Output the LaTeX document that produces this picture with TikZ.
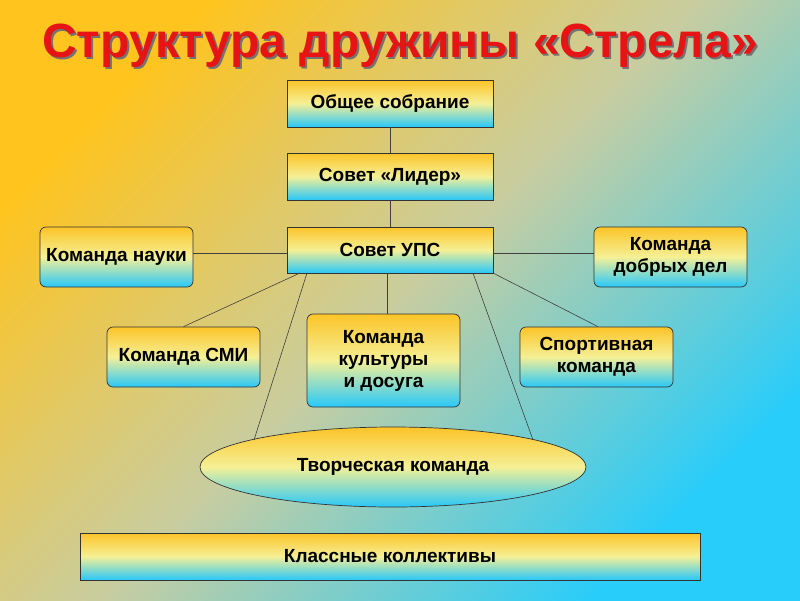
\documentclass[tikz,border=0pt]{standalone}
\usepackage{fontspec}
\setmainfont{Liberation Sans}
\usetikzlibrary{shapes.geometric}
\definecolor{bgY}{RGB}{255,196,30}
\definecolor{bgC}{RGB}{40,205,250}
\definecolor{bxY}{RGB}{252,196,40}
\definecolor{bxM}{RGB}{245,240,150}
\definecolor{bxC}{RGB}{40,200,250}
\definecolor{ttl}{RGB}{230,20,20}
\tikzset{
 bx/.style={draw=black!80,line width=0.7pt,top color=bxY,bottom color=bxC,middle color=bxM,font=\bfseries\fontsize{19}{22}\selectfont,align=center,inner sep=0pt},
 rbx/.style={bx,rounded corners=6pt},
 ln/.style={draw=black!75,line width=0.6pt}
}
\begin{document}
\begin{tikzpicture}[x=1pt,y=-1pt]
\shade[top color=bgY,bottom color=bgC,middle color={rgb,255:red,200;green,205;blue,160},shading angle=45] (0,0) rectangle (800,600);
\useasboundingbox (0,0) rectangle (800,600);
\node[font=\bfseries\fontsize{48}{54}\selectfont,text=black!55] at (402,48) {Структура дружины «Стрела»};
\node[font=\bfseries\fontsize{48}{54}\selectfont,text=ttl] (t) at (400,46) {Структура дружины «Стрела»};
\node[bx,minimum width=206,minimum height=47] (a) at (390,103.5) {Общее собрание};
\node[bx,minimum width=206,minimum height=47] (b) at (390,176.5) {Совет «Лидер»};
\node[bx,minimum width=206,minimum height=46] (c) at (390,250) {Совет УПС};
\node[rbx,minimum width=153,minimum height=60] (n) at (116.5,257) {Команда науки};
\node[rbx,minimum width=153,minimum height=60] (d) at (670.5,257) {Команда\\добрых дел};
\node[rbx,minimum width=153,minimum height=60] (s) at (183.5,357) {Команда СМИ};
\node[rbx,minimum width=153,minimum height=93] (k) at (383.5,360.5) {Команда\\культуры\\и досуга};
\node[rbx,minimum width=153,minimum height=60] (sp) at (596.5,357) {Спортивная\\команда};
\node[bx,ellipse,minimum width=386,minimum height=80] (e) at (393,467) {Творческая команда};
\node[bx,minimum width=620,minimum height=47] (kl) at (390,556.5) {Классные коллективы};
\draw[ln] (a) -- (b);
\draw[ln] (b) -- (c);
\draw[ln] (c.west |- 0,253) -- (n.east |- 0,253);
\draw[ln] (c.east |- 0,253) -- (d.west |- 0,253);
\draw[ln] (300,273) -- (s.north);
\draw[ln] (307,273) -- (254,440);
\draw[ln] (387,273) -- (k.north -| 387,0);
\draw[ln] (473,273) -- (533,440);
\draw[ln] (493,273) -- (s.north -| 598,0);
\end{tikzpicture}
\end{document}
